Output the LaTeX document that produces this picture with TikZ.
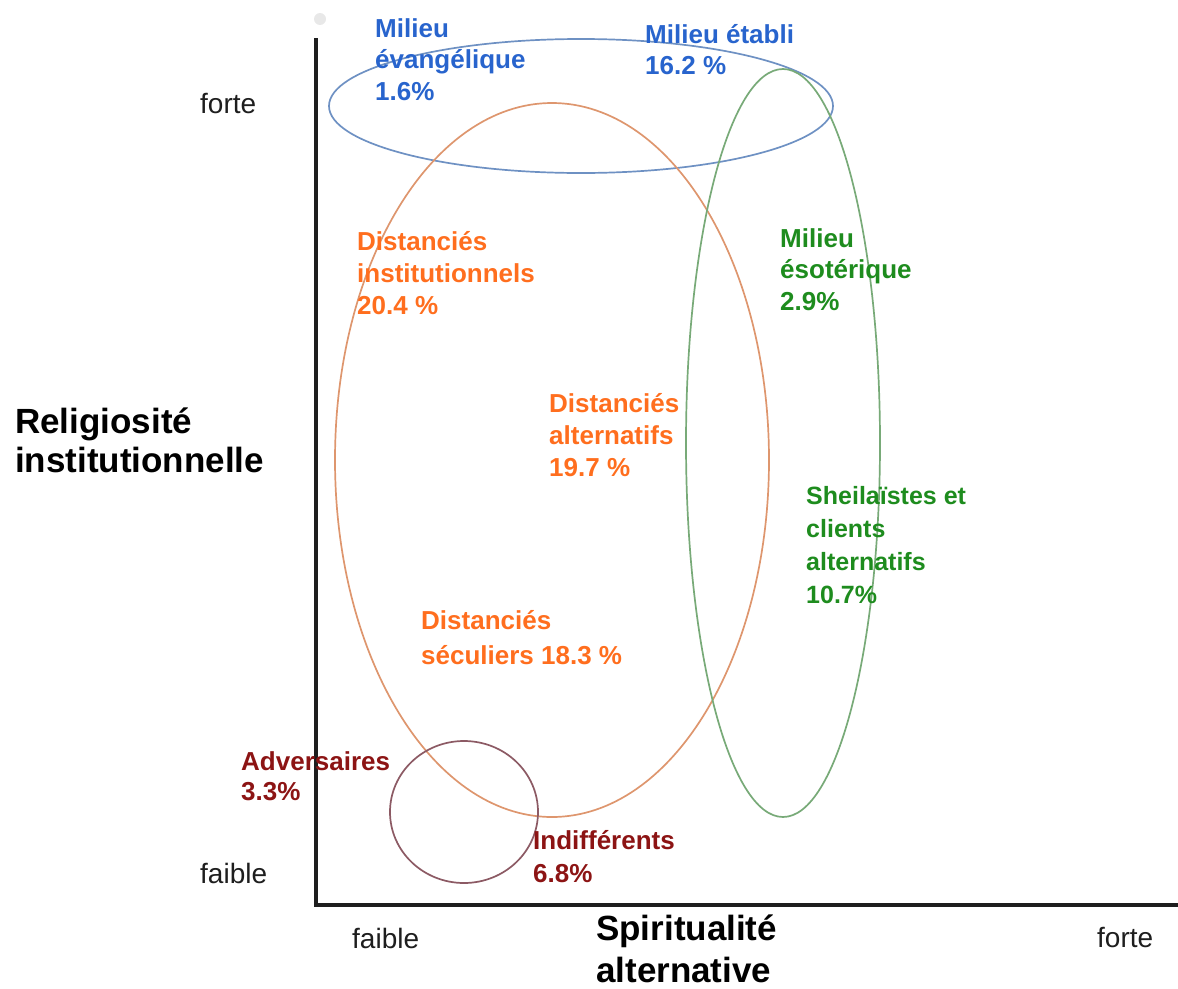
\documentclass[tikz,border=0pt]{standalone}
\usepackage{fontspec}
\setmainfont{Liberation Sans}
\definecolor{tblue}{RGB}{40,100,205}
\definecolor{eblue}{RGB}{110,145,195}
\definecolor{torange}{RGB}{255,110,30}
\definecolor{eorange}{RGB}{222,150,110}
\definecolor{tgreen}{RGB}{30,140,30}
\definecolor{egreen}{RGB}{120,170,120}
\definecolor{tred}{RGB}{140,20,20}
\definecolor{ered}{RGB}{140,90,100}
\definecolor{axisc}{RGB}{30,30,30}
\begin{document}
\begin{tikzpicture}[x=1pt,y=-1pt,
  lab/.style={anchor=base west,align=left,inner sep=0pt,font=\bfseries\fontsize{26}{32}\selectfont},
  tick/.style={anchor=base west,inner sep=0pt,text=axisc,font=\fontsize{28}{32}\selectfont},
  ttl/.style={anchor=base west,align=left,inner sep=0pt,text=black,font=\bfseries\fontsize{35}{40}\selectfont},
  ell/.style={line width=1.7pt}]
\useasboundingbox (0,0) rectangle (1178,988);
% faint dot
\fill[gray!18] (320,19) circle (6);
% axes
\coordinate (top) at (316,38);
\coordinate (orig) at (316,905);
\coordinate (right) at (1178,905);
\draw[axisc,line width=4pt] (top) -- (orig) -- (right);
% ellipses
\draw[ell,eblue] (581,106) ellipse [x radius=252,y radius=67];
\draw[ell,eorange] (552,460) ellipse [x radius=217,y radius=357];
\draw[ell,egreen] (783,443) ellipse [x radius=97,y radius=374];
\draw[ell,ered] (464,812) ellipse [x radius=74,y radius=71];
% tick labels
\node[tick] (yf) at (200,113) {forte};
\node[tick] (yl) at (200,883) {faible};
\node[tick] (xl) at (352,948) {faible};
\node[tick] (xf) at (1097,947) {forte};
% axis titles
\node[ttl,font=\bfseries\fontsize{35}{39}\selectfont] (ytitle) at (15,472) {Religiosité\\institutionnelle};
\node[ttl,font=\bfseries\fontsize{35}{42}\selectfont] (xtitle) at (596,982) {Spiritualité\\alternative};
% blue
\node[lab,text=tblue,font=\bfseries\fontsize{26}{31.5}\selectfont] (evang) at (375,100) {Milieu\\évangélique\\1.6\%};
\node[lab,text=tblue,font=\bfseries\fontsize{26}{31}\selectfont] (etabli) at (645,74) {Milieu établi\\16.2 \%};
% orange
\node[lab,text=torange] (dinst) at (357,314) {Distanciés\\institutionnels\\20.4 \%};
\node[lab,text=torange] (dalt) at (549,476) {Distanciés\\alternatifs\\19.7 \%};
\node[lab,text=torange,font=\bfseries\fontsize{26}{35}\selectfont] (dsec) at (421,664) {Distanciés\\séculiers 18.3 \%};
% green
\node[lab,text=tgreen,font=\bfseries\fontsize{26}{31.5}\selectfont] (eso) at (780,310) {Milieu\\ésotérique\\2.9\%};
\node[lab,text=tgreen,font=\bfseries\fontsize{25}{33}\selectfont] (sheila) at (806,603) {Sheilaïstes et\\clients\\alternatifs\\10.7\%};
% red
\node[lab,text=tred,font=\bfseries\fontsize{26}{30}\selectfont] (adv) at (241,800) {Adversaires\\3.3\%};
\node[lab,text=tred,font=\bfseries\fontsize{26}{33}\selectfont] (indif) at (533,882) {Indifférents\\6.8\%};
\end{tikzpicture}
\end{document}
